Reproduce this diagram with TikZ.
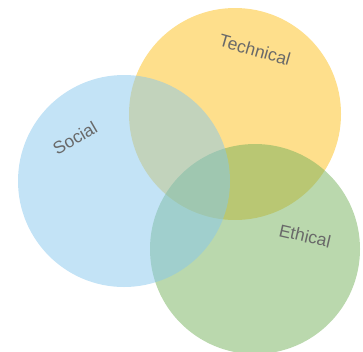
\documentclass[tikz,border=0pt]{standalone}
\usepackage{fontspec}
\setmainfont{Liberation Sans}
\definecolor{cblue}{RGB}{135,199,237}
\definecolor{cyellow}{RGB}{253,191,25}
\definecolor{cgreen}{RGB}{117,177,91}
\definecolor{ctext}{RGB}{105,105,105}
\begin{document}
\begin{tikzpicture}[x=1pt,y=-1pt,
  venn/.style={fill opacity=0.5, draw=none},
  lbl/.style={text=ctext, font=\fontsize{17.5}{20}\selectfont, inner sep=0pt}]
\useasboundingbox (0,0) rectangle (363,351);
\fill[venn, cyellow] (235,114) circle (106);
\fill[venn, cgreen] (255,249) circle (105);
\fill[venn, cblue] (124,181) circle (106);
\node[lbl, rotate=30] (social) at (75,138) {Social};
\node[lbl, rotate=-16] (technical) at (255,50) {Technical};
\node[lbl, rotate=-13] (ethical) at (305,236) {Ethical};
\end{tikzpicture}
\end{document}
